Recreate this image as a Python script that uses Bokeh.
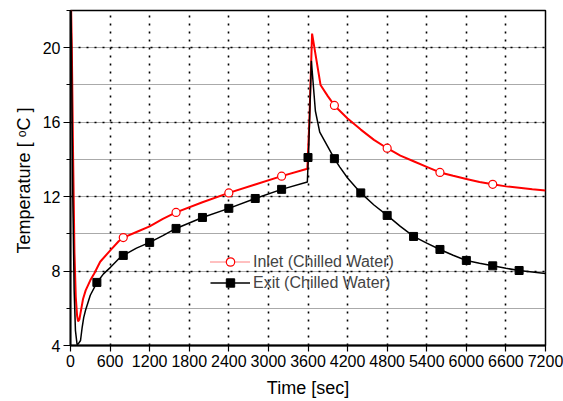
from bokeh.plotting import figure
from bokeh.models import SingleIntervalTicker, ColumnDataSource, Legend, LegendItem
from bokeh.embed import file_html
from bokeh.resources import INLINE

# ---- data ----
inlet_t = [0, 20, 40, 60, 80, 100, 115, 135, 160, 190, 230, 300, 360, 450, 600, 730, 800,
           1000, 1200, 1400, 1600, 2000, 2400, 2800, 3200, 3590, 3620, 3662, 3790, 3900,
           4000, 4200, 4400, 4600, 4800, 5000, 5200, 5400, 5600, 5800, 6000, 6200, 6400,
           6600, 6800, 7000, 7200]
inlet_T = [24, 20, 14, 9, 6.6, 5.6, 5.3, 5.4, 5.9, 6.5, 6.96, 7.5, 7.87, 8.5, 9.1, 9.6, 9.8,
           10.1, 10.4, 10.8, 11.15, 11.7, 12.2, 12.65, 13.1, 13.5, 16.0, 20.76, 18.0, 17.4,
           16.9, 16.2, 15.6, 15.05, 14.6, 14.2, 13.9, 13.6, 13.3, 13.12, 12.95, 12.78, 12.66,
           12.55, 12.48, 12.4, 12.33]

exit_t = [0, 15, 35, 55, 75, 100, 120, 152, 177, 200, 227, 300, 404, 500, 606, 732, 800,
          1000, 1200, 1400, 1600, 2000, 2400, 2800, 3200, 3590, 3610, 3651, 3712, 3778,
          4000, 4080, 4200, 4400, 4600, 4800, 5000, 5200, 5400, 5600, 5800, 6000, 6200,
          6400, 6600, 6800, 7000, 7200]
exit_T = [24, 20, 12, 7, 4.8, 4.05, 4.1, 4.27, 4.98, 5.5, 5.88, 6.7, 7.4, 7.85, 8.2, 8.66, 8.84,
          9.23, 9.54, 9.9, 10.29, 10.88, 11.37, 11.9, 12.39, 12.78, 14.5, 19.3, 16.6, 15.47,
          14.04, 13.6, 13.0, 12.2, 11.55, 10.99, 10.4, 9.86, 9.5, 9.16, 8.85, 8.57, 8.42,
          8.28, 8.15, 8.03, 7.95, 7.87]

inlet_mark_t = [800, 1600, 2400, 3200, 4000, 4800, 5600, 6400]
inlet_mark_T = [9.8, 11.15, 12.2, 13.1, 16.9, 14.6, 13.3, 12.66]

exit_mark_t = [400, 800, 1200, 1600, 2000, 2400, 2800, 3200, 3600, 4000, 4400, 4800,
               5200, 5600, 6000, 6400, 6800]
exit_mark_T = [7.39, 8.84, 9.54, 10.29, 10.88, 11.37, 11.9, 12.39, 14.1, 14.04, 12.2,
               10.99, 9.86, 9.16, 8.57, 8.28, 8.03]

labels = ["Inlet (Chilled Water)", "Exit (Chilled Water)"]
x_label = "Time [sec]"
y_label = "Temperature  [ \u1d52C ]"

FONT = "Liberation Sans"

p = figure(width=563, height=401, x_range=(0, 7200), y_range=(4, 22),
           output_backend="svg", toolbar_location=None,
           min_border_left=70, min_border_right=18, min_border_top=10, min_border_bottom=56)

p.background_fill_color = "white"
p.border_fill_color = "white"
p.outline_line_color = "black"
p.outline_line_width = 1.5

# axes
p.xaxis.ticker = SingleIntervalTicker(interval=600, num_minor_ticks=0)
p.yaxis.ticker = SingleIntervalTicker(interval=4, num_minor_ticks=2)
for ax in (p.xaxis, p.yaxis):
    ax.axis_line_color = "black"
    ax.axis_line_width = 1.8
    ax.major_tick_line_color = "black"
    ax.major_tick_line_width = 1.2
    ax.major_tick_in = 0
    ax.major_tick_out = 6
    ax.major_label_text_font = FONT
    ax.major_label_text_font_size = "16px"
    ax.major_label_text_color = "black"
    ax.axis_label_text_font = FONT
    ax.axis_label_text_font_size = "18px"
    ax.axis_label_text_font_style = "normal"
    ax.axis_label_text_color = "black"
    ax.major_label_standoff = 3
p.yaxis.major_tick_out = 7
p.xaxis.minor_tick_line_color = None
p.yaxis.minor_tick_in = 0
p.yaxis.minor_tick_out = 4
p.yaxis.minor_tick_line_color = "black"
p.xaxis.axis_label = x_label
p.yaxis.axis_label = y_label
p.xaxis.axis_label_standoff = 8
p.yaxis.axis_label_standoff = 6

# grids
for g in (p.xgrid, p.ygrid):
    g.grid_line_color = "black"
    g.grid_line_width = 1.6
    g.grid_line_dash = "2 6"
p.ygrid.minor_grid_line_color = "#555555"
p.ygrid.minor_grid_line_width = 1
p.ygrid.minor_grid_line_dash = "1 1"

# data lines
r_in_line = p.line(inlet_t, inlet_T, line_color="red", line_width=2)
r_ex_line = p.line(exit_t, exit_T, line_color="black", line_width=1.5)
r_in_mark = p.scatter(inlet_mark_t, inlet_mark_T, marker="circle", size=8,
                      line_color="red", fill_color="white", line_width=1.2)
r_ex_mark = p.scatter(exit_mark_t, exit_mark_T, marker="square", size=8,
                      line_color="black", fill_color="black")

# legend-only line style (a single point draws nothing in the plot)
leg_src = ColumnDataSource(dict(x=inlet_t[:1], y=inlet_T[:1]))
r_leg_in = p.line("x", "y", source=leg_src, line_color="red", line_width=1, line_dash="1 1")

legend = Legend(items=[LegendItem(label=labels[0], renderers=[r_leg_in, r_in_mark]),
                       LegendItem(label=labels[1], renderers=[r_ex_line, r_ex_mark])],
                location=(140, 52), padding=0, margin=0, spacing=0,
                glyph_width=40, glyph_height=21, label_standoff=3,
                label_text_font=FONT, label_text_font_size="16px",
                border_line_color=None, background_fill_alpha=0)
p.add_layout(legend)

open("out.html", "w").write(file_html(p, INLINE))
